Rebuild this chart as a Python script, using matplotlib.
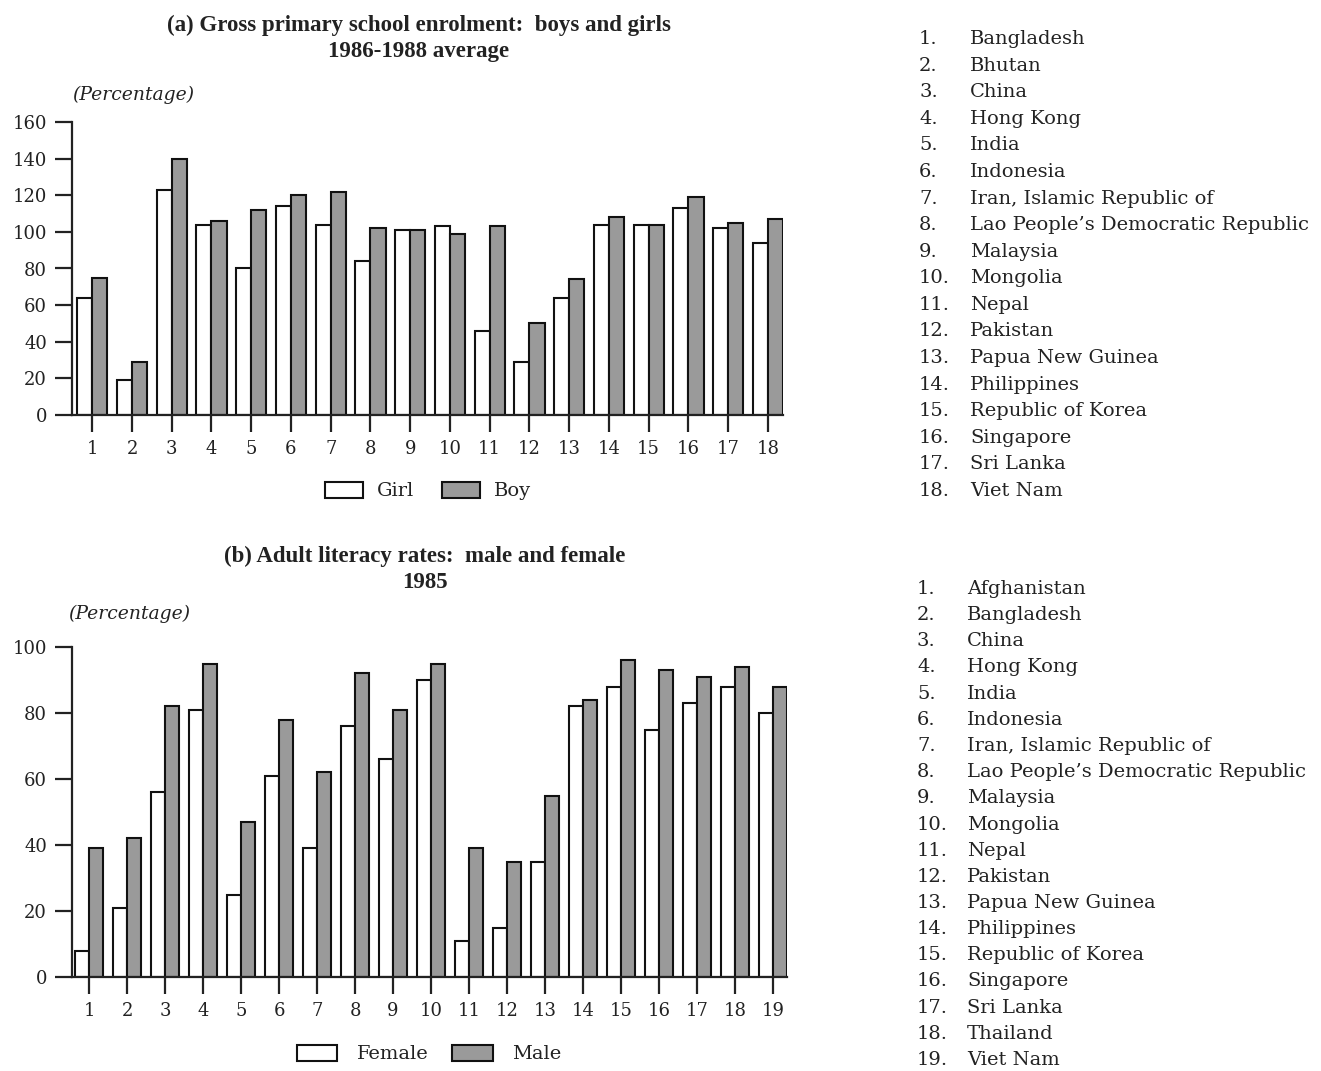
import matplotlib
matplotlib.use("Agg")
import matplotlib.pyplot as plt
import numpy as np

# ---- data ----
enrol_idx = list(range(1, 19))
girl = [64, 19, 123, 104, 80, 114, 104, 84, 101, 103, 46, 29, 64, 104, 104, 113, 102, 94]
boy = [75, 29, 140, 106, 112, 120, 122, 102, 101, 99, 103, 50, 74, 108, 104, 119, 105, 107]
enrol_countries = ["Bangladesh", "Bhutan", "China", "Hong Kong", "India", "Indonesia",
                   "Iran, Islamic Republic of", "Lao People\u2019s Democratic Republic",
                   "Malaysia", "Mongolia", "Nepal", "Pakistan", "Papua New Guinea",
                   "Philippines", "Republic of Korea", "Singapore", "Sri Lanka", "Viet Nam"]
enrol_yticks = [0, 20, 40, 60, 80, 100, 120, 140, 160]

lit_idx = list(range(1, 20))
female = [8, 21, 56, 81, 25, 61, 39, 76, 66, 90, 11, 15, 35, 82, 88, 75, 83, 88, 80]
male = [39, 42, 82, 95, 47, 78, 62, 92, 81, 95, 39, 35, 55, 84, 96, 93, 91, 94, 88]
lit_countries = ["Afghanistan", "Bangladesh", "China", "Hong Kong", "India", "Indonesia",
                 "Iran, Islamic Republic of", "Lao People\u2019s Democratic Republic",
                 "Malaysia", "Mongolia", "Nepal", "Pakistan", "Papua New Guinea",
                 "Philippines", "Republic of Korea", "Singapore", "Sri Lanka",
                 "Thailand", "Viet Nam"]
lit_yticks = [0, 20, 40, 60, 80, 100]

SERIF = "DejaVu Serif"
TITLE = "Liberation Serif"
GRAY = "#9a9a9a"
TXT = "#222222"

W, H = 1321, 1071
fig = plt.figure(figsize=(W / 100, H / 100), dpi=100)


def fx(px):
    return px / W


def fy(py):
    return 1 - py / H


def style_axes(ax):
    for s in ["top", "right"]:
        ax.spines[s].set_visible(False)
    for s in ["left", "bottom"]:
        ax.spines[s].set_linewidth(1.6)
        ax.spines[s].set_color("#222222")
    ax.tick_params(axis="both", direction="out", length=12, width=1.6,
                   labelsize=13, colors="#222222", pad=6)
    for lab in ax.get_xticklabels() + ax.get_yticklabels():
        lab.set_fontfamily(SERIF)
        lab.set_color(TXT)


# ---- panel (a) ----
ax1 = fig.add_axes([fx(72), fy(415), fx(783 - 72), (415 - 122) / H])
bw = 0.38
x1 = np.array(enrol_idx)
b_g = ax1.bar(x1 - bw / 2, girl, bw, color="white", edgecolor="#111111", linewidth=1.5, label="Girl")
b_b = ax1.bar(x1 + bw / 2, boy, bw, color=GRAY, edgecolor="#111111", linewidth=1.5, label="Boy")
ax1.set_xlim(0.49, 18.38)
ax1.set_ylim(0, 160)
ax1.set_yticks(enrol_yticks)
ax1.set_xticks(enrol_idx)
ax1.set_xticklabels([str(i) for i in enrol_idx])
style_axes(ax1)
ax1.legend(handles=[b_g, b_b], loc="center", bbox_to_anchor=(fx(428), fy(491)),
           bbox_transform=fig.transFigure, ncol=2, frameon=False,
           prop={"family": SERIF, "size": 14}, handlelength=1.95, handleheight=0.9,
           handletextpad=0.75, columnspacing=1.4, labelcolor=TXT)

fig.text(fx(419), fy(25), "(a) Gross primary school enrolment:  boys and girls",
         ha="center", va="center", family=TITLE, weight="bold", size=16.5, color=TXT)
fig.text(fx(419), fy(52), "1986-1988 average",
         ha="center", va="center", family=TITLE, weight="bold", size=16.5, color=TXT)
fig.text(fx(72), fy(95), "(Percentage)", ha="left", va="center", family=SERIF,
         style="italic", size=13.5, color=TXT)

# ---- panel (b) ----
ax2 = fig.add_axes([fx(72), fy(977), fx(787 - 72), (977 - 647) / H])
bw2 = 0.36
x2 = np.array(lit_idx)
b_f = ax2.bar(x2 - bw2 / 2, female, bw2, color="white", edgecolor="#111111", linewidth=1.5, label="Female")
b_m = ax2.bar(x2 + bw2 / 2, male, bw2, color=GRAY, edgecolor="#111111", linewidth=1.5, label="Male")
ax2.set_xlim(0.55, 19.37)
ax2.set_ylim(0, 100)
ax2.set_yticks(lit_yticks)
ax2.set_xticks(lit_idx)
ax2.set_xticklabels([str(i) for i in lit_idx])
style_axes(ax2)
ax2.legend(handles=[b_f, b_m], loc="center", bbox_to_anchor=(fx(429), fy(1054)),
           bbox_transform=fig.transFigure, ncol=2, frameon=False,
           prop={"family": SERIF, "size": 14}, handlelength=2.1, handleheight=0.9,
           handletextpad=1.0, columnspacing=1.2, labelcolor=TXT)

fig.text(fx(425), fy(556), "(b) Adult literacy rates:  male and female",
         ha="center", va="center", family=TITLE, weight="bold", size=16.5, color=TXT)
fig.text(fx(425), fy(582), "1985",
         ha="center", va="center", family=TITLE, weight="bold", size=16.5, color=TXT)
fig.text(fx(68), fy(614), "(Percentage)", ha="left", va="center", family=SERIF,
         style="italic", size=13.5, color=TXT)

# ---- country lists ----
y0, dy = 39, (491 - 39) / 17
for i, name in enumerate(enrol_countries):
    y = y0 + i * dy
    fig.text(fx(919), fy(y), f"{i + 1}.", ha="left", va="center", family=SERIF, size=14, color=TXT)
    fig.text(fx(970), fy(y), name, ha="left", va="center", family=SERIF, size=14, color=TXT)

y0, dy = 589, (1060 - 589) / 18
for i, name in enumerate(lit_countries):
    y = y0 + i * dy
    fig.text(fx(917), fy(y), f"{i + 1}.", ha="left", va="center", family=SERIF, size=14, color=TXT)
    fig.text(fx(967), fy(y), name, ha="left", va="center", family=SERIF, size=14, color=TXT)

fig.savefig("out.png", dpi=100, facecolor="white")
